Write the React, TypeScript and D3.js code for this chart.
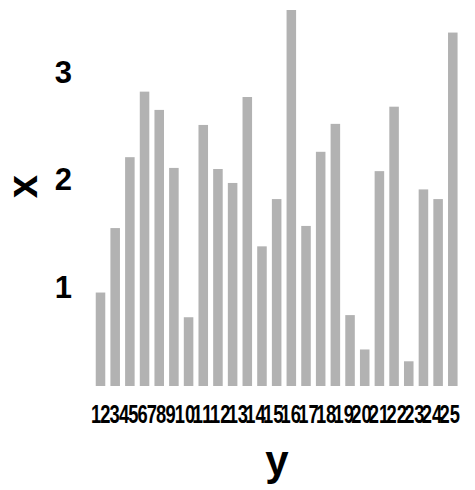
import React from "react";
import * as d3 from "d3";

const categories = ["1","2","3","4","5","6","7","8","9","10","11","12","13","14","15","16","17","18","19","20","21","22","23","24","25"];
const values = [0.87, 1.47, 2.13, 2.74, 2.57, 2.03, 0.64, 2.43, 2.02, 1.89, 2.69, 1.30, 1.74, 3.50, 1.49, 2.18, 2.44, 0.66, 0.34, 2.00, 2.60, 0.23, 1.83, 1.74, 3.29];
const yTicks = [1, 2, 3];
const xTitle = "y";
const yTitle = "x";

const W = 475;
const H = 490;
const FONT = "'Liberation Sans', Arial, sans-serif";

export default function App() {
  const x = d3.scaleBand<string>().domain(categories).range([90.6, 462.7]).padding(0.35);
  const y = d3.scaleLinear().domain([0, d3.max(values) as number]).range([386, 10]);

  // tick label layout: labels packed side by side (they overlap, as in the reference)
  const digitW = 9.3;
  const glyphW = 10.2;
  const overlap = 0.95;
  let cursor = 91.0;
  const labelPos = categories.map((c) => {
    const pos = cursor;
    cursor += c.length * digitW - (c.length - 1) * overlap;
    return pos;
  });

  return (
    <svg width={W} height={H} style={{ position: "absolute", left: 0, top: 0 }} fontFamily={FONT}>
      <rect width={W} height={H} fill="#fff" />
      <g>
        {categories.map((c, i) => (
          <rect key={c} x={x(c)} y={y(values[i])} width={x.bandwidth()} height={y(0) - y(values[i])} fill="#b2b2b2" />
        ))}
      </g>
      <g fontWeight="bold" fontSize={31} textAnchor="end" fill="#000">
        {yTicks.map((t) => (
          <text key={t} x={72} y={y(t)} dy="0.62em">{t}</text>
        ))}
      </g>
      <g fontWeight="bold" fontSize={25} fill="#000">
        {categories.map((c, i) => (
          <text key={c} x={labelPos[i]} y={423} textLength={c.length * glyphW} lengthAdjust="spacingAndGlyphs">{c}</text>
        ))}
      </g>
      <text x={277} y={474.8} textAnchor="middle" fontWeight="bold" fontSize={42}>{xTitle}</text>
      <text transform="translate(36.7,186.7) rotate(-90)" textAnchor="middle" fontWeight="bold" fontSize={42}>{yTitle}</text>
    </svg>
  );
}
